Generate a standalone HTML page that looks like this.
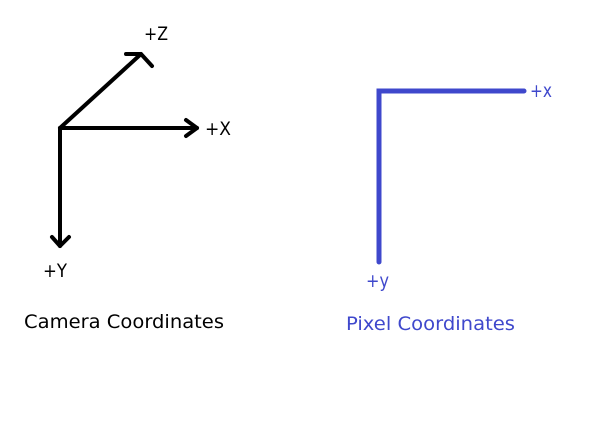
<!DOCTYPE html>
<html><head><style>
html,body{margin:0;padding:0;background:#fff;}
svg{display:block;}
text{font-family:"DejaVu Sans","Liberation Sans",sans-serif;font-size:19px;}
</style></head><body>
<svg width="611" height="434" viewBox="0 0 611 434" xmlns="http://www.w3.org/2000/svg">
<rect width="611" height="434" fill="#fff"/>
<g stroke="#000" stroke-width="4" fill="none" stroke-linecap="round" stroke-linejoin="round">
<line x1="60" y1="128" x2="60" y2="246"/>
<line x1="60" y1="128" x2="197" y2="128"/>
<line x1="60" y1="128" x2="141" y2="54"/>
<polyline points="186,120 197,128 186,136"/>
<polyline points="52,237 60,246 69,237"/>
<polyline points="126,54 141,54 152,66"/>
</g>
<g fill="#000">
<text x="144" y="40" textLength="24" lengthAdjust="spacingAndGlyphs">+Z</text>
<text x="205" y="135" textLength="26" lengthAdjust="spacingAndGlyphs">+X</text>
<text x="43" y="277" textLength="24" lengthAdjust="spacingAndGlyphs">+Y</text>
<text x="24" y="328" textLength="200" lengthAdjust="spacingAndGlyphs">Camera Coordinates</text>
</g>
<g stroke="#3f48cc" stroke-width="5" fill="none" stroke-linecap="round">
<polyline points="379,262 379,91 524,91"/>
</g>
<g fill="#3f48cc">
<text x="530" y="97" textLength="22" lengthAdjust="spacingAndGlyphs">+x</text>
<text x="366" y="287" textLength="23" lengthAdjust="spacingAndGlyphs">+y</text>
<text x="346" y="330" textLength="169" lengthAdjust="spacingAndGlyphs">Pixel Coordinates</text>
</g>
</svg>
</body></html>
